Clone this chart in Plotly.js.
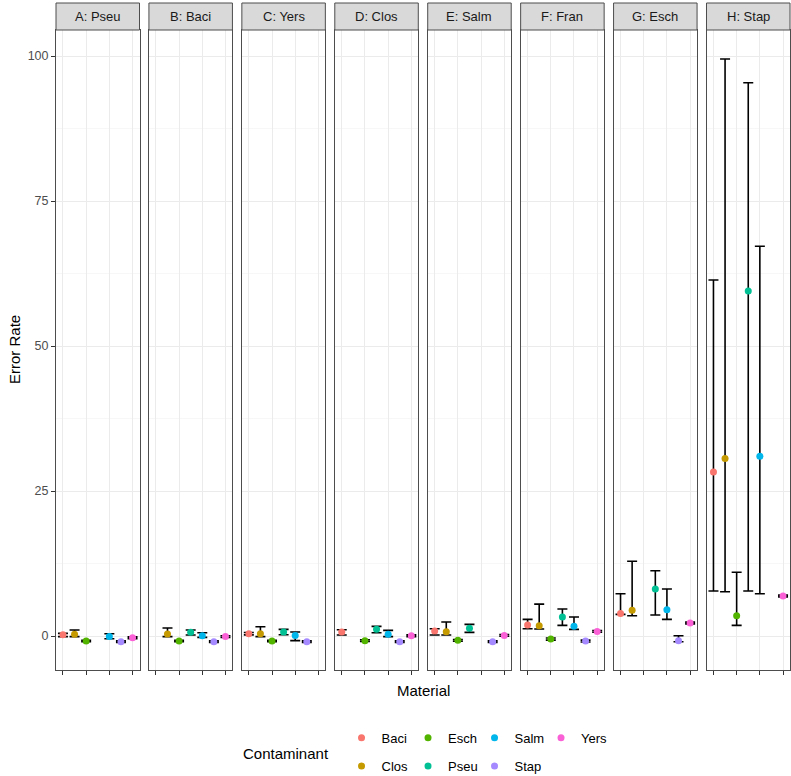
<!DOCTYPE html>
<html>
<head>
<meta charset="utf-8">
<script src="https://cdn.plot.ly/plotly-3.0.1.min.js"></script>
<style>html,body{margin:0;padding:0;background:#fff;}#chart{width:791px;height:776px;}</style>
</head>
<body>
<div id="chart"></div>
<script>
// ---- data ----
const contaminants = ['Baci', 'Clos', 'Esch', 'Pseu', 'Salm', 'Stap', 'Yers'];
const panelLabels = ['A: Pseu', 'B: Baci', 'C: Yers', 'D: Clos', 'E: Salm', 'F: Fran', 'G: Esch', 'H: Stap'];
const colors = ['#F8766D', '#C49A00', '#53B400', '#00C094', '#00B6EB', '#A58AFF', '#FB61D7'];

const rateA = [0.2, 0.3, -0.86, null, -0.1, -0.98, -0.3];
const lowA  = [-0.1, -0.1, -1.0, null, -0.46, -1.12, -0.45];
const highA = [0.45, 1.03, -0.72, null, 0.4, -0.84, -0.15];

const rateB = [null, 0.34, -0.86, 0.63, 0.05, -0.98, -0.1];
const lowB  = [null, -0.1, -1.0, 0.17, -0.23, -1.12, -0.25];
const highB = [null, 1.38, -0.72, 1.03, 0.57, -0.84, 0.05];

const rateC = [0.4, 0.4, -0.86, 0.69, 0.11, -0.98, null];
const lowC  = [0.2, -0.1, -1.0, 0.23, -0.8, -1.12, null];
const highC = [0.6, 1.6, -0.72, 1.15, 0.69, -0.84, null];

const rateD = [0.69, null, -0.8, 1.15, 0.29, -0.98, 0.05];
const lowD  = [0.17, null, -0.95, 0.57, -0.1, -1.12, -0.1];
const highD = [1.09, null, -0.65, 1.67, 0.98, -0.84, 0.2];

const rateE = [0.86, 0.75, -0.75, 1.32, null, -0.98, 0.11];
const lowE  = [0.17, 0.17, -0.9, 0.63, null, -1.12, -0.04];
const highE = [1.26, 2.41, -0.6, 2.0, null, -0.84, 0.26];

const rateF = [1.9, 1.78, -0.52, 3.28, 1.67, -0.86, 0.8];
const lowF  = [1.26, 1.2, -0.7, 1.84, 1.15, -1.02, 0.65];
const highF = [2.87, 5.5, -0.34, 4.66, 3.28, -0.7, 0.95];

const rateG = [3.9, 4.43, null, 8.1, 4.54, -0.8, 2.24];
const lowG  = [3.74, 3.5, null, 3.62, 2.87, -1.0, 2.09];
const highG = [7.3, 12.9, null, 11.26, 8.1, 0.05, 2.39];

const rateH = [28.3, 30.6, 3.5, 59.5, 31.0, null, 6.9];
const lowH  = [7.76, 7.64, 1.84, 7.76, 7.3, null, 6.75];
const highH = [61.4, 99.5, 11.0, 95.4, 67.2, null, 7.05];

const yTicks = [0, 25, 50, 75, 100];

// ---- build ----
const rates = [rateA, rateB, rateC, rateD, rateE, rateF, rateG, rateH];
const lows = [lowA, lowB, lowC, lowD, lowE, lowF, lowG, lowH];
const highs = [highA, highB, highC, highD, highE, highF, highG, highH];

const W = 791, H = 776;
const mL = 56, mR = 1, mT = 30, mB = 106;
const plotW = W - mL - mR, plotH = H - mT - mB;
const panelW = 83.5;
const gap = (plotW - 8 * panelW) / 7;
const font = 'Liberation Sans, Arial, Helvetica, sans-serif';

// legend rows (ggplot column-major order, 2 rows)
const legendRow = {Baci: 'legend', Esch: 'legend', Salm: 'legend', Yers: 'legend',
                   Clos: 'legend2', Pseu: 'legend2', Stap: 'legend2'};
const legendRank = {Baci: 1, Esch: 2, Salm: 3, Yers: 4, Clos: 1, Pseu: 2, Stap: 3};

const traces = [];
const shownLegend = {};
for (let p = 0; p < 8; p++) {
  const ax = p === 0 ? '' : String(p + 1);
  for (let c = 0; c < contaminants.length; c++) {
    const v = rates[p][c];
    if (v === null) continue;
    const name = contaminants[c];
    const show = !shownLegend[name];
    shownLegend[name] = true;
    traces.push({
      type: 'scatter', mode: 'markers',
      x: [name], y: [v],
      xaxis: 'x' + ax, yaxis: 'y' + ax,
      name: name, legendgroup: name, showlegend: show,
      legend: legendRow[name], legendrank: legendRank[name],
      marker: {color: colors[c], size: 7},
      error_y: {type: 'data', symmetric: false,
        array: [highs[p][c] - v], arrayminus: [v - lows[p][c]],
        color: '#000000', thickness: 1.6, width: 5},
      hoverinfo: 'x+y'
    });
  }
}

const legendCommon = {orientation: 'h', xanchor: 'left', yanchor: 'middle',
  font: {family: font, size: 13, color: '#000'}, entrywidth: 21.5, entrywidthmode: 'pixels',
  itemclick: false, bgcolor: 'rgba(0,0,0,0)', traceorder: 'normal'};

const layout = {
  width: W, height: H,
  margin: {l: mL, r: mR, t: mT, b: mB, pad: 0, autoexpand: false},
  paper_bgcolor: '#FFFFFF', plot_bgcolor: '#FFFFFF',
  font: {family: font, size: 12, color: '#000'},
  shapes: [], annotations: [],
  legend: Object.assign({}, legendCommon, {x: 0.389, y: -0.106}),
  legend2: Object.assign({}, legendCommon, {x: 0.389, y: -0.15})
};

for (let p = 0; p < 8; p++) {
  const ax = p === 0 ? '' : String(p + 1);
  const x0 = (p * (panelW + gap)) / plotW;
  const x1 = (p * (panelW + gap) + panelW) / plotW;
  layout['xaxis' + ax] = {
    domain: [x0, x1], anchor: 'y' + ax,
    type: 'category', categoryorder: 'array', categoryarray: contaminants,
    range: [-0.6, 6.6], fixedrange: true,
    showgrid: true, gridcolor: '#EBEBEB', gridwidth: 1,
    showline: true, mirror: true, linecolor: '#4D4D4D', linewidth: 1,
    ticks: 'outside', ticklen: 4, tickcolor: '#333333', tickwidth: 1,
    showticklabels: false, zeroline: false
  };
  layout['yaxis' + ax] = {
    domain: [0, 1], anchor: 'x' + ax,
    range: [-5.86, 104.5], fixedrange: true,
    tickvals: yTicks, ticktext: yTicks.map(String),
    showgrid: true, gridcolor: '#EBEBEB', gridwidth: 1,
    minor: {tickvals: [12.5, 37.5, 62.5, 87.5], showgrid: true, gridcolor: '#F2F2F2', gridwidth: 0.6, ticks: ''},
    showline: true, mirror: true, linecolor: '#4D4D4D', linewidth: 1,
    ticks: p === 0 ? 'outside' : '', ticklen: 4, tickcolor: '#333333', tickwidth: 1,
    showticklabels: p === 0,
    tickfont: {family: font, size: 12.5, color: '#4D4D4D'},
    zeroline: false
  };
  if (p > 0) layout['yaxis' + ax].matches = 'y';
  // strip
  layout.shapes.push({type: 'rect', xref: 'paper', yref: 'paper',
    x0: x0, x1: x1, y0: 1, y1: 1 + 27 / plotH,
    fillcolor: '#D9D9D9', line: {color: '#4D4D4D', width: 1}, layer: 'above'});
  layout.annotations.push({xref: 'paper', yref: 'paper', x: (x0 + x1) / 2, y: 1 + 13.5 / plotH,
    text: panelLabels[p], showarrow: false, xanchor: 'center', yanchor: 'middle',
    font: {family: font, size: 13, color: '#1A1A1A'}});
}

layout.annotations.push({xref: 'paper', yref: 'paper', x: 0.5, y: 0, yshift: -20,
  text: 'Material', showarrow: false, xanchor: 'center', yanchor: 'middle',
  font: {family: font, size: 15, color: '#000'}});
layout.annotations.push({xref: 'paper', yref: 'paper', x: 0, xshift: -42, y: 0.5,
  text: 'Error Rate', textangle: -90, showarrow: false, xanchor: 'center', yanchor: 'middle',
  font: {family: font, size: 15, color: '#000'}});
layout.annotations.push({xref: 'paper', yref: 'paper', x: (241 - mL) / plotW, y: -(753 - (H - mB)) / plotH,
  text: 'Contaminant', showarrow: false, xanchor: 'left', yanchor: 'middle',
  font: {family: font, size: 15, color: '#000'}});

Plotly.newPlot('chart', traces, layout, {displayModeBar: false, staticPlot: true});
</script>
</body>
</html>
